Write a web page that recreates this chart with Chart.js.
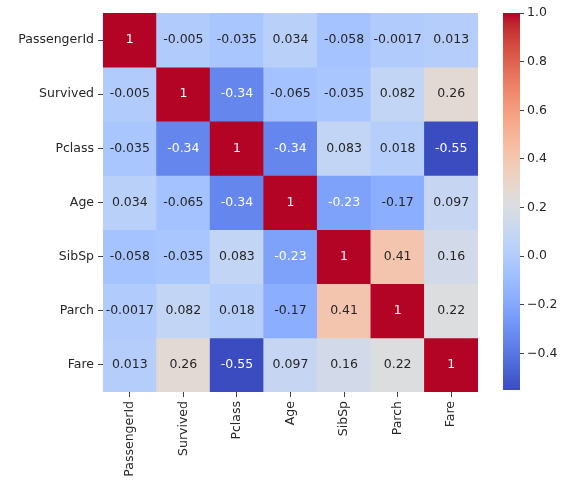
<!DOCTYPE html>
<html>
<head>
<meta charset="utf-8">
<script src="https://cdn.jsdelivr.net/npm/chart.js@4"></script>
<style>
  body { margin: 0; background: #fff; }
  #wrap { position: relative; width: 565px; height: 489px; }
  #wrap canvas { position: absolute; top: 0; }
</style>
</head>
<body>
<div id="wrap">
  <canvas id="heat" width="565" height="489" style="left:0"></canvas>
  <canvas id="cbar" width="85" height="489" style="left:480px"></canvas>
</div>
<script>
// correlation matrix of the titanic columns
var columns = ["PassengerId", "Survived", "Pclass", "Age", "SibSp", "Parch", "Fare"];
var rowPassengerId = [1, -0.005, -0.035, 0.034, -0.058, -0.0017, 0.013];
var rowSurvived    = [-0.005, 1, -0.34, -0.065, -0.035, 0.082, 0.26];
var rowPclass      = [-0.035, -0.34, 1, -0.34, 0.083, 0.018, -0.55];
var rowAge         = [0.034, -0.065, -0.34, 1, -0.23, -0.17, 0.097];
var rowSibSp       = [-0.058, -0.035, 0.083, -0.23, 1, 0.41, 0.16];
var rowParch       = [-0.0017, 0.082, 0.018, -0.17, 0.41, 1, 0.22];
var rowFare        = [0.013, 0.26, -0.55, 0.097, 0.16, 0.22, 1];
var colorbarTicks  = [-0.4, -0.2, 0.0, 0.2, 0.4, 0.6, 0.8, 1.0];

var matrix = [rowPassengerId, rowSurvived, rowPclass, rowAge, rowSibSp, rowParch, rowFare];
var vmin = Math.min.apply(null, matrix.map(r => Math.min.apply(null, r)));
var vmax = Math.max.apply(null, matrix.map(r => Math.max.apply(null, r)));

// coolwarm lookup (Moreland)
var coolwarm = [
  [59,76,192],[68,90,204],[77,104,215],[87,117,225],[98,130,234],[108,142,241],
  [119,154,247],[130,165,251],[141,176,254],[152,185,255],[163,194,255],[174,201,253],
  [184,208,249],[194,213,244],[204,217,238],[213,219,230],[221,221,221],[229,216,209],
  [236,211,197],[241,204,184],[245,196,172],[247,187,159],[247,177,147],[247,166,134],
  [244,154,123],[241,141,111],[236,127,99],[229,112,89],[222,96,77],[213,80,66],
  [203,62,56],[192,40,47],[180,4,38]
];

function cmap(v) {
  var t = (v - vmin) / (vmax - vmin);
  t = Math.max(0, Math.min(1, t));
  var f = t * (coolwarm.length - 1);
  var i = Math.min(Math.floor(f), coolwarm.length - 2);
  var a = f - i;
  var c0 = coolwarm[i], c1 = coolwarm[i + 1];
  return [0, 1, 2].map(k => Math.round(c0[k] + (c1[k] - c0[k]) * a));
}

function rgb(c) { return "rgb(" + c[0] + "," + c[1] + "," + c[2] + ")"; }

// same rule seaborn uses to pick text colour
function textColor(c) {
  var lin = c.map(x => {
    x = x / 255;
    return x <= 0.03928 ? x / 12.92 : Math.pow((x + 0.055) / 1.055, 2.4);
  });
  var lum = 0.2126 * lin[0] + 0.7152 * lin[1] + 0.0722 * lin[2];
  return lum > 0.408 ? "#262626" : "#ffffff";
}

function fmt(v) { return String(Number(v.toPrecision(2))); }

var font = { family: "DejaVu Sans", size: 12.5 };

var datasets = matrix.map((row, r) => ({
  label: columns[r],
  data: row.map(() => 1),
  backgroundColor: row.map(v => rgb(cmap(v))),
  borderWidth: 0,
  barPercentage: 1,
  categoryPercentage: 1
}));

var annotate = {
  id: "annotate",
  afterDatasetsDraw(chart) {
    var ctx = chart.ctx;
    var xs = chart.scales.x, ys = chart.scales.y;
    ctx.save();
    ctx.font = "12.5px 'DejaVu Sans'";
    ctx.textAlign = "center";
    ctx.textBaseline = "middle";
    matrix.forEach((row, r) => {
      row.forEach((v, c) => {
        ctx.fillStyle = textColor(cmap(v));
        ctx.fillText(fmt(v), xs.getPixelForValue(c), ys.getPixelForValue(r + 0.5));
      });
    });
    ctx.restore();
  }
};

new Chart(document.getElementById("heat"), {
  type: "bar",
  data: { labels: columns, datasets: datasets },
  options: {
    responsive: false,
    animation: false,
    layout: { padding: { top: 13, right: 87, left: 0, bottom: 0 } },
    plugins: { legend: { display: false }, tooltip: { enabled: false } },
    scales: {
      x: {
        stacked: true,
        offset: true,
        afterFit: function (s) { s.height = 97; },
        grid: { offset: false, drawOnChartArea: false, tickLength: 5, color: "#444" },
        border: { display: false },
        ticks: { minRotation: 90, maxRotation: 90, autoSkip: false, padding: 4, color: "#262626", font: font }
      },
      y: {
        stacked: true,
        reverse: true,
        min: 0,
        max: 7,
        afterFit: function (s) { s.width = 103; },
        afterBuildTicks: function (s) { s.ticks = columns.map((_, i) => ({ value: i + 0.5 })); },
        grid: { drawOnChartArea: false, tickLength: 5, color: "#444" },
        border: { display: false },
        ticks: {
          padding: 4, color: "#262626", font: font,
          callback: function (v) { return columns[Math.floor(v)]; }
        }
      }
    }
  },
  plugins: [annotate]
});

// colorbar
new Chart(document.getElementById("cbar"), {
  type: "bar",
  data: {
    labels: [""],
    datasets: [{
      data: [[vmin, vmax]],
      borderWidth: 0,
      barPercentage: 1,
      categoryPercentage: 1,
      backgroundColor: function (context) {
        var chart = context.chart;
        if (!chart.chartArea) return "#ddd";
        var ys = chart.scales.y;
        var g = chart.ctx.createLinearGradient(0, ys.getPixelForValue(vmin), 0, ys.getPixelForValue(vmax));
        coolwarm.forEach((c, i) => g.addColorStop(i / (coolwarm.length - 1), rgb(c)));
        return g;
      }
    }]
  },
  options: {
    responsive: false,
    animation: false,
    layout: { padding: { top: 13, left: 23, bottom: 99, right: 0 } },
    plugins: { legend: { display: false }, tooltip: { enabled: false } },
    scales: {
      x: { display: false },
      y: {
        position: "right",
        min: vmin,
        max: vmax,
        afterFit: function (s) { s.width = 45; },
        afterBuildTicks: function (s) { s.ticks = colorbarTicks.map(v => ({ value: v })); },
        grid: { drawOnChartArea: false, tickLength: 4, color: "#444" },
        border: { display: false },
        ticks: {
          padding: 3, color: "#262626", font: font,
          callback: function (v) { return v.toFixed(1).replace("-", "\u2212"); }
        }
      }
    }
  }
});
</script>
</body>
</html>
